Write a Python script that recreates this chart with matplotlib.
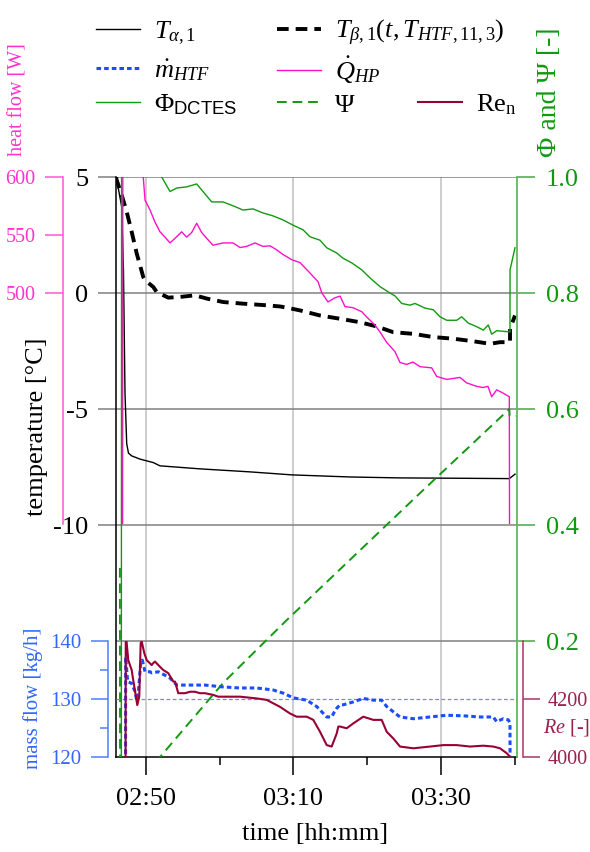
import matplotlib
matplotlib.use('Agg')
import matplotlib.pyplot as plt
from matplotlib.ticker import FuncFormatter, FormatStrFormatter

plt.rcParams['font.family'] = ['Liberation Serif', 'DejaVu Serif']
plt.rcParams['mathtext.fontset'] = 'custom'
plt.rcParams['mathtext.rm'] = 'Liberation Serif'
plt.rcParams['mathtext.it'] = 'Liberation Serif:italic'
plt.rcParams['mathtext.bf'] = 'Liberation Serif:bold'
plt.rcParams['mathtext.sf'] = 'Liberation Sans'
plt.rcParams['mathtext.fallback'] = 'stix'
plt.rcParams['axes.unicode_minus'] = False

# ---------------- data (time in minutes after 02:00) ----------------
t_alpha = [45.98, 46.75, 46.99, 47.20, 47.43, 47.67, 48.10, 49.23, 51.03, 51.94, 57.35,
           64.12, 69.81, 77.66, 84.43, 89.85, 99.23, 100.00]
T_alpha = [5.05, 3.72, 1.0, -4.34, -6.5, -6.9, -7.02, -7.16, -7.31, -7.45, -7.58,
           -7.71, -7.84, -7.93, -7.97, -7.98, -8.0, -7.81]

t_beta = [45.98, 46.07, 46.75, 47.43, 48.10, 48.78, 49.67, 49.91, 51.03, 51.49, 53.06, 54.64,
          56.67, 58.26, 60.51, 63.21, 66.38, 68.18, 69.09, 70.89, 73.60, 76.31, 79.01, 81.27,
          83.52, 86.23, 88.94, 91.65, 94.35, 96.61, 97.97, 99.32, 99.33, 100.00]
T_beta = [5.0, 4.87, 4.22, 3.5, 2.64, 1.71, 0.69, 0.55, 0.26, 0.04, -0.2, -0.17,
          -0.10, -0.24, -0.39, -0.46, -0.53, -0.58, -0.63, -0.75, -0.97, -1.11, -1.26, -1.44,
          -1.69, -1.76, -1.90, -1.97, -2.08, -2.19, -2.12, -2.12, -1.54, -0.97]

t_heat = [46.87, 46.91, 49.43, 49.67, 49.91, 50.58, 51.26, 51.94, 52.61, 53.29, 53.97, 54.87,
          55.55, 56.23, 56.90, 57.58, 58.26, 59.11, 60.47, 61.82, 62.77, 63.67, 64.80, 65.88,
          66.83, 67.74, 68.59, 69.77, 70.89, 72.24, 73.33, 73.83, 74.68, 75.63, 76.31, 76.98,
          78.07, 79.24, 79.92, 81.04, 81.72, 82.63, 83.75, 84.43, 85.34, 86.19, 87.14, 88.72,
          89.40, 90.75, 92.55, 93.46, 94.81, 95.67, 96.34, 96.84, 97.52, 98.20, 99.23, 99.27]
Q_hp = [250, 680, 640, 600, 580, 571.6, 561, 552.6, 548, 543, 547, 552.6,
        548, 552, 560, 552, 547, 541, 543, 543, 539, 540, 543, 540,
        540.5, 537, 533, 528.5, 526, 517, 509.5, 500, 492, 495.6, 497, 488,
        487, 483.6, 479, 472, 466, 457, 449, 439.6, 438, 440, 436, 435,
        427.6, 425, 426.7, 422, 419, 418, 419, 410, 416, 413.8, 410, 250]

t_phi = [46.70, 46.74, 51.50, 52.17, 53.29, 54.20, 55.55, 56.90, 57.76, 58.94, 60.47, 62.09,
         63.17, 64.53, 65.88, 67.23, 68.59, 69.94, 71.30, 72.24, 73.60, 74.51, 75.86, 76.71,
         77.89, 79.24, 80.37, 81.72, 83.08, 83.75, 84.66, 85.78, 86.46, 87.81, 88.94, 89.85,
         90.75, 92.11, 92.78, 93.68, 94.81, 95.71, 96.38, 96.84, 97.52, 99.23, 99.32, 99.33, 100.00]
Phi = [-0.05, 1.06, 1.04, 1.0, 0.975, 0.981, 0.983, 0.988, 0.975, 0.957, 0.957, 0.949,
       0.943, 0.945, 0.938, 0.933, 0.926, 0.917, 0.909, 0.897, 0.891, 0.878, 0.869, 0.860,
       0.852, 0.840, 0.826, 0.811, 0.800, 0.795, 0.782, 0.779, 0.782, 0.774, 0.771, 0.759,
       0.753, 0.753, 0.759, 0.748, 0.742, 0.736, 0.745, 0.729, 0.735, 0.733, 0.733, 0.84, 0.878]

t_psi = [46.51, 46.53, 51.87, 51.94, 60.51, 69.09, 87.14, 99.23, 99.27, 100.13]
Psi = [0.326, -0.01, -0.01, 0.0, 0.128, 0.236, 0.455, 0.60, 0.588, 0.588]

t_mass = [47.26, 47.29, 47.56, 48.10, 48.55, 48.78, 49.00, 49.32, 49.54, 49.91, 50.58, 50.81,
          51.71, 52.61, 53.29, 53.52, 54.20, 56.00, 58.03, 60.29, 62.77, 65.03, 67.28, 68.63,
          69.98, 71.80, 73.15, 74.51, 74.95, 75.18, 75.63, 75.86, 76.31, 76.75, 78.11, 79.46,
          80.81, 81.95, 82.63, 83.52, 84.43, 86.23, 88.49, 90.75, 93.00, 95.26, 97.06, 97.52,
          98.42, 99.09, 99.32, 99.35]
m_htf = [110, 137.2, 133, 132.7, 131.3, 129.8, 131, 136.2, 136.7, 134.7, 134.7, 134.5,
         134.7, 134.1, 133.6, 133.3, 132.4, 132.4, 132.4, 132.1, 131.9, 131.9, 131.55, 131.0,
         130.2, 129.8, 128.7, 126.9, 126.9, 126.9, 128.0, 128.4, 129.0, 129.0, 129.5, 130.1,
         129.8, 129.8, 128.7, 127.8, 126.9, 126.6, 126.9, 127.2, 127.1, 126.9, 126.9, 126.1,
         126.6, 126.4, 125.9, 110]
m_setpoint = 130

t_re = [47.27, 47.30, 47.43, 47.64, 48.10, 48.46, 48.86, 49.13, 49.32, 49.46, 49.81, 50.14,
        50.81, 51.03, 51.26, 51.94, 52.38, 53.06, 53.74, 53.97, 54.41, 55.32, 56.00, 56.67,
        57.35, 58.03, 59.15, 59.83, 60.97, 62.77, 65.03, 66.38, 68.18, 69.54, 70.44, 71.80,
        72.69, 73.60, 74.51, 75.18, 75.86, 76.08, 76.31, 77.21, 78.11, 79.46, 80.81, 81.95,
        82.63, 83.52, 84.43, 86.23, 88.49, 90.29, 92.11, 93.91, 95.71, 97.06, 97.97, 98.88,
        99.32, 99.35]
Re_n = [3900, 4420, 4393, 4334, 4300, 4242, 4179, 4208, 4393, 4398, 4358, 4334,
        4317, 4324, 4329, 4311, 4300, 4289, 4260, 4260, 4220, 4220, 4225, 4225,
        4220, 4220, 4214, 4208, 4208, 4208, 4202, 4197, 4173, 4150, 4139, 4139,
        4128, 4087, 4041, 4036, 4081, 4105, 4105, 4099, 4116, 4139, 4128, 4128,
        4087, 4064, 4036, 4030, 4036, 4041, 4041, 4036, 4039, 4036, 4030, 4013,
        4001, 3950]

temp_ticks = [-10, -5, 0, 5]
heat_ticks = [500, 550, 600]
phi_ticks = [0.2, 0.4, 0.6, 0.8, 1.0]
mass_ticks = [120, 130, 140]
mass_minor = [125, 135]
re_ticks = [4000, 4200]
time_major = [50, 70, 90]
time_minor = [60, 80, 100]

# ---------------- colours ----------------
PINK = '#ff10c8'
PINK_AX = '#ff55d8'
GREEN = '#119911'
GREEN_AX = '#5cbb5c'
BLUE = '#1a4dff'
BLUE_AX = '#4d7fff'
BLUE_TXT = '#3366ff'
MAROON = '#990033'
MAROON_AX = '#aa3366'
GRID_H = '#808080'
GRID_V = '#c0c0c0'

W, H = 590, 852
fig = plt.figure(figsize=(W / 100, H / 100), dpi=100)


def rect(l, t, r, b):
    return [l / W, 1 - b / H, (r - l) / W, (b - t) / H]


ax = fig.add_axes(rect(116, 177, 517, 757))
ax_heat = fig.add_axes(rect(116, 177, 517, 524), sharex=ax)
ax_phi = ax.twinx()
ax_mass = fig.add_axes(rect(116, 641, 517, 757), sharex=ax)
ax_re = ax_mass.twinx()

for a in (ax_heat, ax_mass):
    a.patch.set_visible(False)

# ---- main temperature axes ----
ax.set_xlim(45.98, 100.27)
ax.set_ylim(-20, 5)
ax.set_yticks(temp_ticks)
ax.set_xticks(time_major)
ax.set_xticks(time_minor, minor=True)
ax.xaxis.set_major_formatter(FuncFormatter(
    lambda v, p: f"{int((v + 120) // 60):02d}:{int(round((v + 120) % 60)):02d}"))
ax.grid(axis='y', color=GRID_H, lw=1.1)
ax.grid(axis='x', which='major', color=GRID_V, lw=1.1)
ax.axhline(-15, color=GRID_H, lw=1.1)
for s in ('top', 'right'):
    ax.spines[s].set_visible(False)
ax.spines['left'].set_linewidth(1.1)
ax.spines['bottom'].set_linewidth(1.1)
ax.tick_params(axis='y', direction='out', length=13, width=1.1, color=GRID_H,
               labelsize=19, pad=7)
ax.tick_params(axis='x', which='major', direction='out', length=13, width=1.1,
               labelsize=19, pad=9)
ax.tick_params(axis='x', which='minor', direction='out', length=5.8, width=1.1)

l_ta, = ax.plot(t_alpha, T_alpha, color='black', lw=1.0)
l_tb, = ax.plot(t_beta, T_beta, color='black', lw=2.8, ls=(0, (3, 1.8)))

# ---- heat flow axes ----
ax_heat.set_ylim(300, 600)
ax_heat.set_yticks(heat_ticks)
for s in ('top', 'right', 'bottom'):
    ax_heat.spines[s].set_visible(False)
ax_heat.spines['left'].set_position(('outward', 38))
ax_heat.spines['left'].set_color(PINK_AX)
ax_heat.spines['left'].set_linewidth(1.1)
ax_heat.tick_params(axis='x', which='both', bottom=False, labelbottom=False)
ax_heat.tick_params(axis='y', direction='out', length=13, width=1.1, color=PINK_AX,
                    labelcolor='#ff33cc', labelsize=14.5, pad=7)
l_q, = ax_heat.plot(t_heat, Q_hp, color=PINK, lw=1.0)

# ---- phi / psi axes ----
ax_phi.set_ylim(0, 1)
ax_phi.set_yticks(phi_ticks)
ax_phi.yaxis.set_major_formatter(FormatStrFormatter('%.1f'))
for s in ('top', 'left', 'bottom'):
    ax_phi.spines[s].set_visible(False)
ax_phi.spines['right'].set_color(GREEN_AX)
ax_phi.spines['right'].set_linewidth(1.3)
ax_phi.tick_params(axis='y', direction='out', length=13, width=1.3, color=GREEN_AX,
                   labelcolor=GREEN, labelsize=19, pad=8)
l_phi, = ax_phi.plot(t_phi, Phi, color=GREEN, lw=1.0)
l_psi, = ax_phi.plot(t_psi, Psi, color=GREEN, lw=1.4, ls=(0, (5, 3)))

# ---- mass flow axes ----
ax_mass.set_ylim(120, 140)
ax_mass.set_yticks(mass_ticks)
ax_mass.set_yticks(mass_minor, minor=True)
for s in ('top', 'right', 'bottom'):
    ax_mass.spines[s].set_visible(False)
ax_mass.spines['left'].set_position(('outward', 5.8))
ax_mass.spines['left'].set_color(BLUE_AX)
ax_mass.spines['left'].set_linewidth(1.1)
ax_mass.tick_params(axis='x', which='both', bottom=False, labelbottom=False)
ax_mass.tick_params(axis='y', which='major', direction='out', length=12.5, width=1.1,
                    color=BLUE_AX, labelcolor=BLUE_TXT, labelsize=15, pad=6.5)
ax_mass.tick_params(axis='y', which='minor', direction='out', length=6, width=1.1,
                    color=BLUE_AX)
ax_mass.axhline(m_setpoint, color='#8080ff', lw=0.9, ls=(0, (3, 2)))
l_m, = ax_mass.plot(t_mass, m_htf, color=BLUE, lw=2.2, ls=(0, (1.5, 1.0)))

# ---- Reynolds axes ----
ax_re.set_ylim(4000, 4400)
ax_re.set_yticks(re_ticks)
for s in ('top', 'left', 'bottom'):
    ax_re.spines[s].set_visible(False)
ax_re.spines['right'].set_position(('outward', 4.3))
ax_re.spines['right'].set_color(MAROON_AX)
ax_re.spines['right'].set_linewidth(1.1)
ax_re.tick_params(axis='y', direction='out', length=12, width=1.1, color=MAROON_AX,
                  labelcolor='#99224d', labelsize=14.5, pad=6)
l_re, = ax_re.plot(t_re, Re_n, color=MAROON, lw=1.5)

# ---- axis labels ----
fig.text(37 / W, 1 - 427 / H, 'temperature [°C]', rotation=90, ha='center', va='center',
         fontsize=19)
fig.text(18 / W, 1 - 100 / H, 'heat flow [W]', rotation=90, ha='center', va='center',
         fontsize=14.5, color='#ff33cc')
fig.text(33 / W, 1 - 698 / H, 'mass flow [kg/h]', rotation=90, ha='center', va='center',
         fontsize=15, color=BLUE_TXT)
fig.text(549 / W, 1 - 92 / H, 'Φ and Ψ [-]', rotation=90, ha='center', va='center',
         fontsize=20, color=GREEN)
fig.text(315 / W, 1 - 834 / H, 'time [hh:mm]', ha='center', va='center', fontsize=19)
fig.text(567 / W, 1 - 728 / H, r'$Re$ [-]', ha='center', va='center', fontsize=14.5,
         color='#99224d')

# ---- legend (one entry per position) ----
entries = [
    (l_ta, r'$T_{\alpha,\mathit{1}}$', 96, 33),
    (l_tb, r'$T_{\beta,\mathit{1}}(t,T_{HTF,\mathit{11,3}})$', 277, 33),
    (l_m, r'$\dot{m}_{HTF}$', 96, 70),
    (l_q, r'$\dot{Q}_{HP}$', 277, 70),
    (l_phi, r'Φ$_{\mathsf{DCTES}}$', 96, 105),
    (l_psi, 'Ψ', 277, 105),
    (l_re, r'Re$_\mathrm{n}$', 418, 105),
]
for h, lab, x, y in entries:
    fig.legend([h], [lab], loc='center left', bbox_to_anchor=(x / W, 1 - y / H),
               frameon=False, fontsize=19, handlelength=1.67, handletextpad=0.53,
               borderpad=0, borderaxespad=0)

fig.savefig('out.png', dpi=100)
